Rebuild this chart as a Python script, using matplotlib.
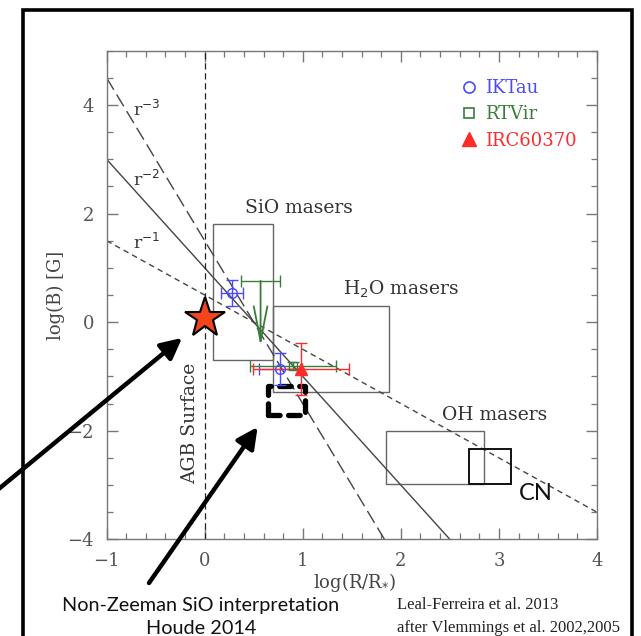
import matplotlib
matplotlib.use("Agg")
import matplotlib.pyplot as plt
import numpy as np
from matplotlib.patches import Rectangle
from matplotlib.lines import Line2D

# ---------------- data ----------------
ik_x = [0.28, 0.77]
ik_y = [0.53, -0.86]
ik_xerr = [0.11, 0.22]
ik_yerr = [0.24, 0.29]

rt_lim_x = [0.57]
rt_lim_y = [0.76]
rt_lim_xerr = [0.20]
rt_lim_len = [1.2]
rt_x = [0.90]
rt_y = [-0.80]
rt_xerr = [0.44]
rt_yerr = [0.07]

irc_x = [0.98]
irc_y = [-0.86]
irc_xerr = [0.49]
irc_yerr = [0.48]

power_labels = ["r$^{-3}$", "r$^{-2}$", "r$^{-1}$"]
power_exp = [3, 2, 1]
power_b0 = [1.5, 1.0, 0.5]
power_label_xy = [(-0.73, 3.91), (-0.73, 2.62), (-0.73, 1.46)]

# maser regions: (x0, x1, y0, y1)
regions = {
    "SiO masers": (0.08, 0.70, -0.70, 1.80),
    "H$_2$O masers": (0.70, 1.88, -1.29, 0.30),
    "OH masers": (1.85, 2.85, -2.98, -2.00),
}
region_label_xy = {
    "SiO masers": (0.41, 2.10),
    "H$_2$O masers": (1.41, 0.61),
    "OH masers": (2.42, -1.71),
}
cn_box = (2.70, 3.12, -2.98, -2.33)
houde_box = (0.65, 1.02, -1.71, -1.18)
star_xy = (0.0, 0.08)

legend_labels = ["IKTau", "RTVir", "IRC60370"]
c_blue = "#4a4aff"
c_green = "#3a7d3a"
c_red = "#ff2a2a"

serif = ["DejaVu Serif"]

# ---------------- figure ----------------
fig = plt.figure(figsize=(6.41, 6.36), dpi=100)
ax = fig.add_axes([0.1663, 0.152, 0.7650, 0.7683])
ax.set_xlim(-1, 4)
ax.set_ylim(-4, 5)

for s in ax.spines.values():
    s.set_color("#777777")
    s.set_linewidth(1.0)

ax.set_xticks([-1, 0, 1, 2, 3, 4])
ax.set_yticks([-4, -2, 0, 2, 4])
ax.set_xticks(np.arange(-1, 4.01, 0.2), minor=True)
ax.set_yticks(np.arange(-4, 5.01, 0.5), minor=True)
ax.tick_params(which="both", direction="in", top=True, right=True, colors="#777777",
               labelcolor="#555555")
ax.tick_params(which="major", length=8, width=1.0, pad=9)
ax.tick_params(which="minor", length=4.5, width=0.9)
ax.set_xticklabels(["\u22121", "0", "1", "2", "3", "4"], fontfamily=serif, fontsize=13)
ax.set_yticklabels(["\u22124", "\u22122", "0", "2", "4"], fontfamily=serif, fontsize=13)

# power-law lines
xx = np.array([-1.0, 4.0])
styles = [(0, (10, 4)), "-", (0, (4, 3))]
for lab, n, b0, st, (lx, ly) in zip(power_labels, power_exp, power_b0, styles, power_label_xy):
    ax.plot(xx, b0 - n * xx, color="#444444", lw=1.0, linestyle=st, zorder=2)
    ax.text(lx, ly, lab, fontfamily=serif, fontsize=12.5, color="#333333", va="center", ha="left")

# AGB surface line
ax.axvline(0, color="#222222", lw=0.9, linestyle=(0, (5, 3)), zorder=2)
ax.text(-0.15, -1.86, "AGB Surface", rotation=90, fontfamily=serif, fontsize=13.5,
        color="#333333", ha="center", va="center")

# maser regions
for name, (x0, x1, y0, y1) in regions.items():
    ax.add_patch(Rectangle((x0, y0), x1 - x0, y1 - y0, fill=False, ec="#666666", lw=1.0, zorder=1))
    lx, ly = region_label_xy[name]
    ax.text(lx, ly, name, fontfamily=serif, fontsize=13.5, color="#333333", ha="left", va="center")

x0, x1, y0, y1 = cn_box
ax.add_patch(Rectangle((x0, y0), x1 - x0, y1 - y0, fill=False, ec="#111111", lw=1.4, zorder=2))
ax.text(3.2, -3.15, "CN", fontfamily=["Lato"], fontsize=17, color="#111111", ha="left", va="center")

# Houde box
x0, x1, y0, y1 = houde_box
ax.add_patch(Rectangle((x0, y0), x1 - x0, y1 - y0, fill=False, ec="black", lw=3.8,
                       linestyle=(0, (2.2, 1.6)), capstyle="round", joinstyle="round", zorder=3))

# star
ax.plot([star_xy[0]], [star_xy[1]], marker="*", ms=30, mfc="#f4441c", mec="black", mew=1.5,
        zorder=5, clip_on=False)

# data
ax.errorbar(ik_x, ik_y, xerr=ik_xerr, yerr=ik_yerr, fmt="o", mfc="none", mec=c_blue,
            ecolor=c_blue, ms=7, mew=1.0, elinewidth=1.0, capsize=4, capthick=1.0, zorder=6)
ax.errorbar(rt_lim_x, rt_lim_y, xerr=rt_lim_xerr, fmt="none", ecolor=c_green,
            elinewidth=1.0, capsize=4, capthick=1.0, zorder=6)
for x, y, L in zip(rt_lim_x, rt_lim_y, rt_lim_len):
    ax.annotate("", xy=(x, y - L), xytext=(x, y),
                arrowprops=dict(arrowstyle="->,head_length=1.8,head_width=0.35", color=c_green,
                                lw=1.3, shrinkA=0, shrinkB=0, mutation_scale=14), zorder=6)
ax.errorbar(rt_x, rt_y, xerr=rt_xerr, yerr=rt_yerr, fmt="s", mfc="none", mec=c_green,
            ecolor=c_green, ms=6, mew=1.0, elinewidth=1.0, capsize=4, capthick=1.0, zorder=6)
ax.errorbar(irc_x, irc_y, xerr=irc_xerr, yerr=irc_yerr, fmt="^", mfc=c_red, mec=c_red,
            ecolor=c_red, ms=9, elinewidth=1.0, capsize=4, capthick=1.0, zorder=6)

# legend
handles = [Line2D([], [], ls="none", marker="o", mfc="none", mec=c_blue, ms=8, mew=1.2),
           Line2D([], [], ls="none", marker="s", mfc="none", mec=c_green, ms=7, mew=1.2),
           Line2D([], [], ls="none", marker="^", mfc=c_red, mec=c_red, ms=10)]
leg = ax.legend(handles, legend_labels, loc="upper left", bbox_to_anchor=(0.705, 0.96),
                frameon=False, handlelength=0.9, handletextpad=0.4, labelspacing=0.45,
                borderpad=0, prop=dict(family=serif, size=13))
for t, c in zip(leg.get_texts(), [c_blue, c_green, c_red]):
    t.set_color(c)

# axis labels
fig.text(354 / 641, 1 - 582 / 636, "log(R/R$_{*}$)", fontfamily=serif, fontsize=13,
         color="#444444", ha="center", va="center")
fig.text(56 / 641, 1 - 295 / 636, "log(B) [G]", fontfamily=serif, fontsize=13,
         color="#444444", ha="center", va="center", rotation=90)

# arrows
arrow_kw = dict(arrowstyle="-|>,head_length=0.9,head_width=0.45", color="black",
                lw=3.2, shrinkA=0, shrinkB=0, mutation_scale=14)
ax.annotate("", xy=(-0.23, -0.29), xycoords="data", xytext=(-5, 636 - 492),
            textcoords="figure pixels", annotation_clip=False, arrowprops=arrow_kw)
ax.annotate("", xy=(0.54, -1.93), xycoords="data", xytext=(149, 636 - 583),
            textcoords="figure pixels", annotation_clip=False, arrowprops=arrow_kw)

# bottom texts
fig.text(201 / 641, 1 - 606 / 636, "Non-Zeeman SiO interpretation", fontfamily=["Lato"],
         fontsize=14.3, color="#111111", ha="center", va="center")
fig.text(201 / 641, 1 - 628 / 636, "Houde 2014", fontfamily=["Lato"],
         fontsize=14.3, color="#111111", ha="center", va="center")
fig.text(397 / 641, 1 - 605 / 636, "Leal-Ferreira et al. 2013", fontfamily=["Liberation Serif"],
         fontsize=12, color="#222222", ha="left", va="center")
fig.text(397 / 641, 1 - 628 / 636, "after Vlemmings et al. 2002,2005", fontfamily=["Liberation Serif"],
         fontsize=12, color="#222222", ha="left", va="center")

# outer frame
frame = Rectangle((23 / 641, -0.05), (632 - 23) / 641, (636 - 10) / 636 + 0.05,
                  transform=fig.transFigure, fill=False, ec="black", lw=2.6, clip_on=False)
fig.patches.append(frame)

fig.savefig("out.png", dpi=100)
